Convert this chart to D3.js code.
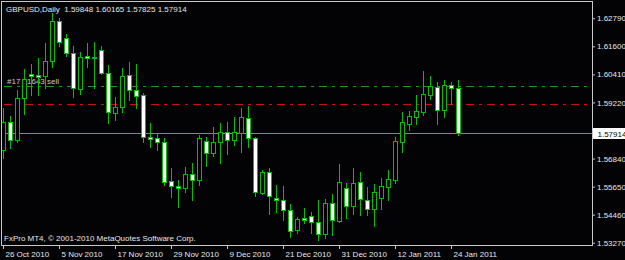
<!DOCTYPE html>
<html>
<head>
<meta charset="utf-8">
<script src="https://cdn.jsdelivr.net/npm/d3@7"></script>
<style>
  html, body { margin: 0; padding: 0; background: #000000; }
  svg { display: block; }
  text { font-family: 'Liberation Sans', Arial, sans-serif; font-size: 8px; }
</style>
</head>
<body>
<div id="chart"></div>
<script>

// GBPUSD daily bars, 26 Oct 2010 .. 25 Jan 2011
const dates = [
  '2010-10-26','2010-10-27','2010-10-28','2010-10-29',
  '2010-11-01','2010-11-02','2010-11-03','2010-11-04','2010-11-05',
  '2010-11-08','2010-11-09','2010-11-10','2010-11-11','2010-11-12',
  '2010-11-15','2010-11-16','2010-11-17','2010-11-18','2010-11-19',
  '2010-11-22','2010-11-23','2010-11-24','2010-11-25','2010-11-26',
  '2010-11-29','2010-11-30','2010-12-01','2010-12-02','2010-12-03',
  '2010-12-06','2010-12-07','2010-12-08','2010-12-09','2010-12-10',
  '2010-12-13','2010-12-14','2010-12-15','2010-12-16','2010-12-17',
  '2010-12-20','2010-12-21','2010-12-22','2010-12-23','2010-12-24',
  '2010-12-27','2010-12-28','2010-12-29','2010-12-30','2010-12-31',
  '2011-01-03','2011-01-04','2011-01-05','2011-01-06','2011-01-07',
  '2011-01-10','2011-01-11','2011-01-12','2011-01-13','2011-01-14',
  '2011-01-17','2011-01-18','2011-01-19','2011-01-20','2011-01-21',
  '2011-01-24','2011-01-25'
];

const open = [
  1.57203,1.58391,1.57627,1.59409,1.60427,1.60385,1.60343,1.60979,1.62676,1.61955,
  1.61318,1.59791,1.61191,1.61149,1.61446,1.60470,1.58773,1.59027,1.60385,1.59749,
  1.59536,1.57755,1.57712,1.57542,1.55888,1.55676,1.55591,1.56185,1.55930,1.57585,
  1.57076,1.57542,1.57967,1.57627,1.57924,1.58561,1.57712,1.55379,1.56270,1.55167,
  1.55082,1.54657,1.53809,1.54318,1.54403,1.54148,1.53639,1.54954,1.54191,1.55591,
  1.54827,1.55845,1.55082,1.54700,1.55167,1.55633,1.55930,1.57542,1.58306,1.58603,
  1.58815,1.59536,1.59876,1.58900,1.59961,1.59848
];
const high = [
  1.58985,1.58645,1.59749,1.60640,1.60852,1.61106,1.61743,1.63015,1.62803,1.62125,
  1.61615,1.61361,1.61743,1.61785,1.61615,1.60809,1.59452,1.60682,1.60937,1.60852,
  1.59621,1.58348,1.57924,1.57712,1.56439,1.55930,1.56482,1.56651,1.57839,1.57755,
  1.58179,1.58348,1.58391,1.58603,1.58985,1.59070,1.57755,1.56354,1.56439,1.55718,
  1.55676,1.54912,1.54360,1.54742,1.54573,1.55082,1.55124,1.55336,1.56609,1.55803,
  1.56439,1.56270,1.55633,1.55760,1.56015,1.56354,1.57755,1.58815,1.58858,1.59536,
  1.60555,1.60343,1.60088,1.60173,1.60088,1.60165
];
const low = [
  1.56864,1.57288,1.57542,1.58730,1.59536,1.59536,1.59833,1.60724,1.61615,1.61191,
  1.59452,1.59579,1.60724,1.59833,1.60427,1.58348,1.58476,1.58815,1.59324,1.58985,
  1.57542,1.57330,1.57203,1.55718,1.55209,1.54785,1.55421,1.55082,1.55718,1.56524,
  1.56948,1.56651,1.57033,1.57415,1.57118,1.57330,1.55251,1.55336,1.54488,1.54573,
  1.54233,1.53512,1.53682,1.54106,1.53682,1.53385,1.53469,1.53597,1.54148,1.54318,
  1.54488,1.54445,1.54445,1.53979,1.54700,1.55082,1.55803,1.57118,1.58052,1.58306,
  1.58688,1.59367,1.58306,1.58603,1.59155,1.57825
];
const close = [
  1.58391,1.57627,1.59409,1.60215,1.60343,1.60300,1.60979,1.62676,1.61785,1.61318,
  1.59833,1.61149,1.61106,1.61106,1.60470,1.58815,1.59027,1.60343,1.59749,1.59494,
  1.57755,1.57670,1.57542,1.55845,1.55676,1.55591,1.56185,1.55930,1.57712,1.57076,
  1.57542,1.57967,1.57627,1.57967,1.58603,1.57712,1.55421,1.56270,1.55251,1.55082,
  1.54657,1.53766,1.54276,1.54233,1.54148,1.53639,1.54954,1.54233,1.55845,1.54827,
  1.55803,1.55124,1.54700,1.55421,1.55676,1.55973,1.57585,1.58391,1.58645,1.58858,
  1.59579,1.59918,1.58900,1.59961,1.59833,1.57914
];

const tickDates = ['2010-10-26','2010-11-05','2010-11-17','2010-11-29','2010-12-09',
                   '2010-12-21','2010-12-31','2011-01-12','2011-01-24'];
// 1.58030 is hidden behind the bid price box, so it is left out
const priceTicks = [1.62790, 1.61600, 1.60410, 1.59220, 1.56840, 1.55650, 1.54460, 1.53270];

const orderPrice = 1.59918;   // green dash-dot, order line
const stopPrice = 1.59167;    // red dash-dot
const bidPrice = 1.57914;     // gray bid line
const orderLabel = '#17 81643 sell';
const symbolTitle = 'GBPUSD,Daily';
const copyright = 'FxPro MT4, \u00A9 2001-2010 MetaQuotes Software Corp.';


class CandleChart {

  constructor(id_tag) {
    this.id_tag = id_tag;
    this.width = 625;
    this.height = 260;
    this.frame = { left: 1.5, top: 1.5, right: 592.5, bottom: 245.5 };
    this.wickColor = '#00c000';
    this.textColor = '#e6e6e6';
  }

  doChart() {
    const bars = dates.map((d, i) => ({
      date: d, open: open[i], high: high[i], low: low[i], close: close[i]
    }));
    const svg = this.createSVG();
    const x = d3.scalePoint().domain(dates).range([3, 3 + 7 * (dates.length - 1)]);
    const y = d3.scaleLinear().domain([1.53172, 1.63482]).range([245, 2]);

    this.doTitle(svg);
    this.doLevels(svg, y);
    this.doCandles(svg, bars, x, y);
    this.doFrame(svg);
    this.doAxes(svg, x, y);
  }

  createSVG() {
    const svg = d3.select(this.id_tag)
      .append('svg')
        .attr('width', this.width)
        .attr('height', this.height);
    svg.append('rect')
      .attr('width', this.width)
      .attr('height', this.height)
      .attr('fill', '#030306');
    svg.append('defs').append('clipPath')
      .attr('id', 'plot-clip')
      .append('rect')
        .attr('x', 2).attr('y', 2)
        .attr('width', 590).attr('height', 243);
    return svg;
  }

  doTitle(svg) {
    const t = svg.append('text')
      .attr('x', 6)
      .attr('y', 11.5)
      .attr('xml:space', 'preserve')
      .style('fill', this.textColor);
    const f = d3.format('.5f');
    const last = dates.length - 1;
    t.text(symbolTitle + '  ' + [open[last], high[last], low[last], close[last]].map(f).join(' '));

    svg.append('text')
      .attr('x', 4)
      .attr('y', 241)
      .style('fill', this.textColor)
      .text(copyright);
  }

  doLevels(svg, y) {
    const f = this.frame;
    const levels = [
      { price: orderPrice, color: '#1c9a1c', dash: '8,5,3,5' },
      { price: stopPrice, color: '#cc1010', dash: '8,5,3,5' },
      { price: bidPrice, color: '#778899', dash: null }
    ];
    levels.forEach(l => {
      const yy = Math.round(y(l.price)) + 0.5;
      svg.append('line')
        .attr('x1', 2).attr('x2', f.right)
        .attr('y1', yy).attr('y2', yy)
        .attr('stroke', l.color)
        .attr('stroke-width', 1)
        .attr('stroke-dasharray', l.dash)
        .attr('stroke-dashoffset', l.dash ? 19 : null);
    });

    // order label sits just above the order line
    svg.append('text')
      .attr('x', 7)
      .attr('y', Math.round(y(orderPrice)) - 2.5)
      .attr('xml:space', 'preserve')
      .style('fill', '#c8c8c8')
      .text(orderLabel);
  }

  doCandles(svg, bars, x, y) {
    const g = svg.append('g').attr('clip-path', 'url(#plot-clip)');
    const items = g.selectAll('.candle')
      .data(bars)
      .enter()
      .append('g')
      .attr('class', 'candle');

    // wicks
    items.append('line')
      .attr('x1', d => x(d.date) + 0.5)
      .attr('x2', d => x(d.date) + 0.5)
      .attr('y1', d => Math.round(y(d.high)))
      .attr('y2', d => Math.round(y(d.low)) + 1)
      .attr('stroke', this.wickColor)
      .attr('stroke-width', 1);

    // bodies: white for down days, black for up days
    items.append('rect')
      .attr('x', d => x(d.date) - 1.5)
      .attr('y', d => Math.round(y(Math.max(d.open, d.close))) + 0.5)
      .attr('width', 4)
      .attr('height', d => Math.max(0, Math.round(y(Math.min(d.open, d.close))) - Math.round(y(Math.max(d.open, d.close)))))
      .attr('fill', d => d.close < d.open ? '#ffffff' : '#000000')
      .attr('stroke', this.wickColor)
      .attr('stroke-width', 1);
  }

  doFrame(svg) {
    const f = this.frame;
    svg.append('rect')
      .attr('x', f.left)
      .attr('y', f.top)
      .attr('width', f.right - f.left)
      .attr('height', f.bottom - f.top)
      .attr('fill', 'none')
      .attr('stroke', '#c8c8c8')
      .attr('stroke-width', 1);
  }

  doAxes(svg, x, y) {
    const f = this.frame;
    const fmt = d3.format('.5f');

    // price scale on the right
    const yAxis = svg.append('g')
      .attr('transform', 'translate(' + (f.right - 0.5) + ',0)')
      .call(d3.axisRight(y).tickValues(priceTicks).tickFormat(fmt).tickSize(3).tickSizeOuter(0));
    yAxis.select('.domain').remove();
    yAxis.selectAll('line').attr('stroke', '#c8c8c8');
    yAxis.selectAll('text')
      .attr('x', 5)
      .style('fill', this.textColor)
      .style('font-family', "'Liberation Sans', Arial, sans-serif")
      .style('font-size', '8px');

    // current price box
    const by = Math.round(y(bidPrice));
    svg.append('rect')
      .attr('x', f.right + 0.5)
      .attr('y', by - 5)
      .attr('width', 40)
      .attr('height', 11)
      .attr('fill', '#ffffff');
    svg.append('text')
      .attr('x', f.right + 5)
      .attr('y', by + 3.5)
      .style('fill', '#000000')
      .text(fmt(bidPrice));

    // date scale at the bottom
    const parse = d3.timeParse('%Y-%m-%d');
    const xAxis = svg.append('g')
      .attr('transform', 'translate(0,' + (f.bottom - 0.5) + ')')
      .call(d3.axisBottom(x).tickValues(tickDates).tickSize(4)
        .tickFormat(d => d3.timeFormat('%-d %b %Y')(parse(d))));
    xAxis.select('.domain').remove();
    xAxis.selectAll('line').attr('stroke', '#c8c8c8');
    xAxis.selectAll('text')
      .attr('x', 2)
      .attr('y', 6)
      .style('text-anchor', 'start')
      .style('fill', this.textColor)
      .style('font-family', "'Liberation Sans', Arial, sans-serif")
      .style('font-size', '8px');
  }
}

const chart = new CandleChart('#chart');
chart.doChart();

</script>
</body>
</html>
